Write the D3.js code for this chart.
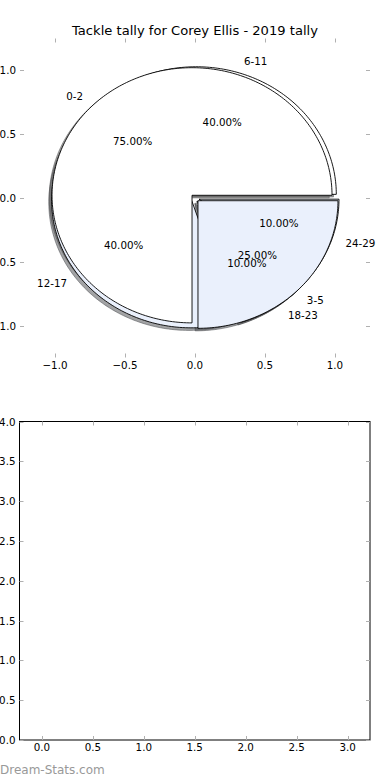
<!DOCTYPE html>
<html>
<head>
<meta charset="utf-8">
<script src="https://cdn.jsdelivr.net/npm/d3@7"></script>
<style>
  body { margin: 0; background: #fff; }
  svg { display: block; font-family: "DejaVu Sans", sans-serif; }
</style>
</head>
<body>
<svg id="chart" width="390" height="780"></svg>
<script>
// two pies drawn on the same axes, the second one sits on top
const firstLabels = ['0-2', '3-5'];
const firstValues = [75, 25];
const firstExplode = [0.03, 0.03];

const secondLabels = ['6-11', '12-17', '18-23', '24-29'];
const secondValues = [40, 40, 10, 10];
const secondExplode = [0.03, 0.03, 0.03, 0.03];

const wedgeColors = ['#ffffff', '#eaf0fc'];

const pieTicks = [-1, -0.5, 0, 0.5, 1];
const emptyXTicks = [0, 0.5, 1, 1.5, 2, 2.5, 3];
const emptyYTicks = [0, 0.5, 1, 1.5, 2, 2.5, 3, 3.5, 4];

const title = 'Tackle tally for Corey Ellis - 2019 tally';
const watermark = 'Dream-Stats.com';

const svg = d3.select('#chart');
const fmt = (v) => d3.format('.1f')(v).replace('-', '\u2212');

// top axes: pie, frame off, limits +-1.25
const px = d3.scaleLinear().domain([-1.25, 1.25]).range([20, 370]);
const py = d3.scaleLinear().domain([-1.25, 1.25]).range([357.5, 38.5]);

function wedgePoints(cx, cy, a0, a1) {
  const pts = [[cx, cy]];
  const n = Math.max(8, Math.ceil((a1 - a0) / 0.02));
  for (let i = 0; i <= n; i++) {
    const a = a0 + ((a1 - a0) * i) / n;
    pts.push([cx + Math.cos(a), cy + Math.sin(a)]);
  }
  pts.push([cx, cy]);
  return pts;
}

const line = d3.line().x((d) => px(d[0])).y((d) => py(d[1]));

function layoutPie(labels, values, explode) {
  const arcs = d3.pie().sort(null).startAngle(0).endAngle(2 * Math.PI)(values);
  return arcs.map((a, i) => {
    const mid = (a.startAngle + a.endAngle) / 2;
    const cx = explode[i] * Math.cos(mid);
    const cy = explode[i] * Math.sin(mid);
    return {
      label: labels[i],
      pct: (100 * a.value) / d3.sum(values),
      a0: a.startAngle,
      a1: a.endAngle,
      mid: mid,
      cx: cx,
      cy: cy,
      color: wedgeColors[i % wedgeColors.length],
    };
  });
}

const second = layoutPie(secondLabels, secondValues, secondExplode);
const first = layoutPie(firstLabels, firstValues, firstExplode);
const drawOrder = second.concat(first);

const pieG = svg.append('g');

const shadowColor = (d) => {
  const c = d3.rgb(d.color);
  return `rgba(${c.r * 0.3},${c.g * 0.3},${c.b * 0.3},0.5)`;
};

// shadows sit under every wedge
pieG.selectAll('path.shadow')
  .data(drawOrder)
  .join('path')
  .attr('class', 'shadow')
  .attr('d', (d) => line(wedgePoints(d.cx - 0.02, d.cy - 0.02, d.a0, d.a1)))
  .attr('fill', shadowColor)
  .attr('stroke', shadowColor)
  .attr('stroke-width', 1);

pieG.selectAll('path.wedge')
  .data(drawOrder)
  .join('path')
  .attr('class', 'wedge')
  .attr('d', (d) => line(wedgePoints(d.cx, d.cy, d.a0, d.a1)))
  .attr('fill', (d) => d.color)
  .attr('stroke', '#000')
  .attr('stroke-width', 0.9);

pieG.selectAll('text.label')
  .data(drawOrder)
  .join('text')
  .attr('class', 'label')
  .attr('x', (d) => px(d.cx + 1.1 * Math.cos(d.mid)))
  .attr('y', (d) => py(d.cy + 1.1 * Math.sin(d.mid)))
  .attr('text-anchor', (d) => (d.cx + 1.1 * Math.cos(d.mid) > 0 ? 'start' : 'end'))
  .attr('dominant-baseline', 'central')
  .attr('font-size', 10.3)
  .text((d) => d.label);

pieG.selectAll('text.pct')
  .data(drawOrder)
  .join('text')
  .attr('class', 'pct')
  .attr('x', (d) => px(d.cx + 0.6 * Math.cos(d.mid)))
  .attr('y', (d) => py(d.cy + 0.6 * Math.sin(d.mid)))
  .attr('text-anchor', 'middle')
  .attr('dominant-baseline', 'central')
  .attr('font-size', 10.3)
  .text((d) => d.pct.toFixed(2) + '%');

svg.append('text')
  .attr('x', 195)
  .attr('y', 30)
  .attr('text-anchor', 'middle')
  .attr('dominant-baseline', 'central')
  .attr('font-size', 13.1)
  .text(title);

// ticks drawn inward on all four sides, matplotlib classic look
function drawTicks(xs, ys, xTicks, yTicks) {
  const g = svg.append('g').attr('stroke', '#b0b0b0').attr('stroke-width', 1);
  const [l, r] = xs.range();
  const [b, t] = ys.range();
  xTicks.forEach((v) => {
    const x = Math.round(xs(v)) + 0.5;
    g.append('line').attr('x1', x).attr('x2', x).attr('y1', b).attr('y2', b - 4);
    g.append('line').attr('x1', x).attr('x2', x).attr('y1', t).attr('y2', t + 4);
  });
  yTicks.forEach((v) => {
    const y = Math.round(ys(v)) + 0.5;
    g.append('line').attr('x1', l).attr('x2', l + 4).attr('y1', y).attr('y2', y);
    g.append('line').attr('x1', r).attr('x2', r - 4).attr('y1', y).attr('y2', y);
  });
  svg.append('g').selectAll('text')
    .data(xTicks)
    .join('text')
    .attr('x', (v) => xs(v))
    .attr('y', b + 3)
    .attr('text-anchor', 'middle')
    .attr('dominant-baseline', 'hanging')
    .attr('font-size', 10.3)
    .text(fmt);
  svg.append('g').selectAll('text')
    .data(yTicks)
    .join('text')
    .attr('x', l - 4)
    .attr('y', (v) => ys(v))
    .attr('text-anchor', 'end')
    .attr('dominant-baseline', 'central')
    .attr('font-size', 10.3)
    .text(fmt);
}

drawTicks(px, py, pieTicks, pieTicks);

// bottom axes: empty plot
const ex = d3.scaleLinear().domain([-0.22, 3.22]).range([19.5, 370]);
const ey = d3.scaleLinear().domain([0, 4]).range([740, 421.5]);

svg.append('rect')
  .attr('x', 19.5)
  .attr('y', 421.5)
  .attr('width', 350.5)
  .attr('height', 318.5)
  .attr('fill', 'none')
  .attr('stroke', '#000')
  .attr('stroke-width', 1);

drawTicks(ex, ey, emptyXTicks, emptyYTicks);

svg.append('text')
  .attr('x', 0)
  .attr('y', 770)
  .attr('dominant-baseline', 'central')
  .attr('font-size', 12)
  .attr('fill', '#999')
  .text(watermark);
</script>
</body>
</html>
